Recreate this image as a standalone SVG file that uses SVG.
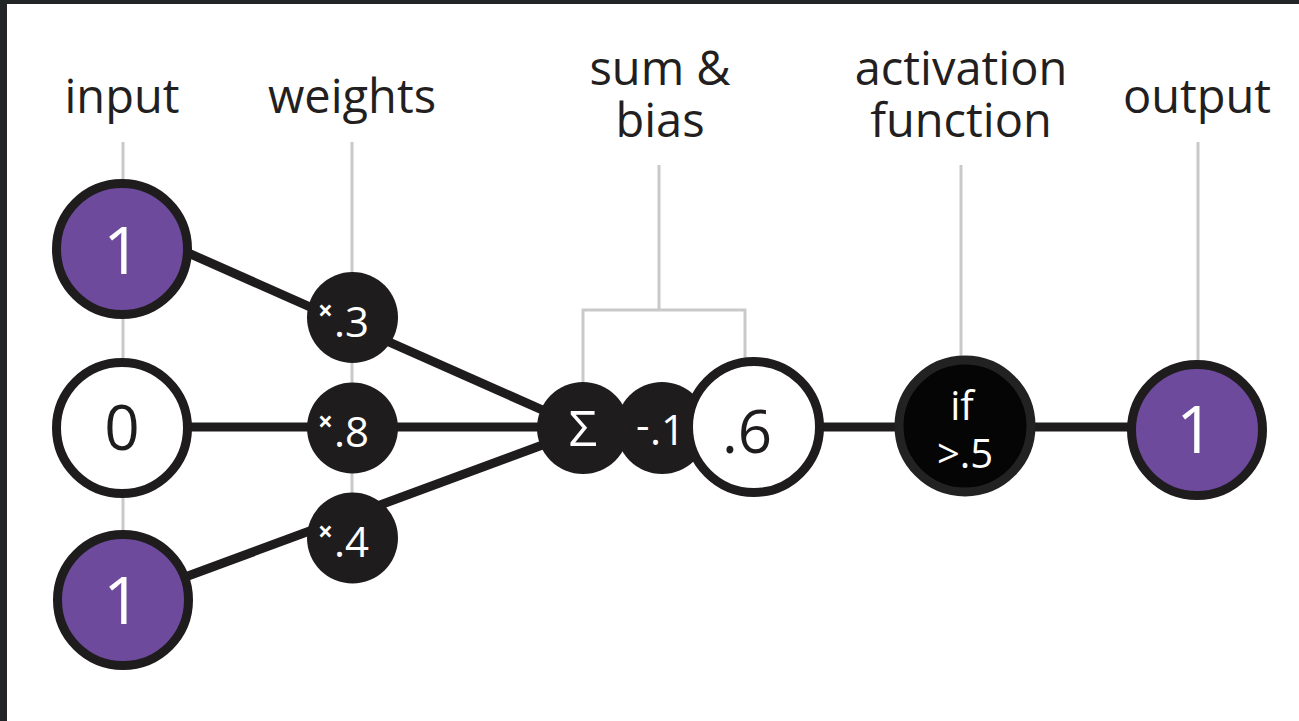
<svg xmlns="http://www.w3.org/2000/svg" width="1299" height="721" viewBox="0 0 1299 721">
  <style>
    .label { font-family: "Open Sans", "Noto Sans", sans-serif; font-size: 47px; font-weight: 500; fill: #231f20; text-anchor: middle; }
    .guide { stroke: #c9c9c9; stroke-width: 3; fill: none; }
    .wire { stroke: #1f1c1d; stroke-width: 9; fill: none; }
    .ring { stroke: #1f1c1d; stroke-width: 9; }
    .purple { fill: #6d4a9b; }
    .white { fill: #ffffff; }
    .dark { fill: #1f1c1d; }
    .num { font-family: "Open Sans", "Noto Sans", sans-serif; font-weight: 500; text-anchor: middle; }
    .wnum { font-family: "Open Sans", "Noto Sans", sans-serif; font-weight: 500; fill: #ffffff; }
    .times { font-size: 26px; font-weight: 700; }
  </style>

  <!-- frame -->
  <rect x="0" y="0" width="1299" height="721" fill="#ffffff"/>
  <rect x="0" y="0" width="1299" height="4" fill="#222526"/>
  <rect x="0" y="0" width="7" height="721" fill="#222526"/>

  <!-- column labels -->
  <g id="labels">
    <text class="label" x="122" y="113">input</text>
    <text class="label" x="352" y="113">weights</text>
    <text class="label" x="660" y="85">sum &amp;<tspan x="660" y="137">bias</tspan></text>
    <text class="label" x="961" y="85">activation<tspan x="961" y="137">function</tspan></text>
    <text class="label" x="1197" y="113">output</text>
  </g>

  <!-- thin guide lines from labels to columns -->
  <g id="guides">
    <line class="guide" x1="123" y1="142" x2="123" y2="600"/>
    <line class="guide" x1="352" y1="142" x2="352" y2="538"/>
    <path class="guide" d="M659 165 V310 M583 383 V310 H745 V360"/>
    <line class="guide" x1="961" y1="165" x2="961" y2="400"/>
    <line class="guide" x1="1198" y1="142" x2="1198" y2="400"/>
  </g>

  <!-- connectors -->
  <g id="connectors">
    <line class="wire" x1="150" y1="236" x2="583" y2="428"/>
    <line class="wire" x1="123" y1="427" x2="1197" y2="427"/>
    <line class="wire" x1="150" y1="590" x2="583" y2="430"/>
  </g>

  <!-- inputs -->
  <g id="input-1">
    <circle class="ring purple" cx="122" cy="249" r="65.5"/>
    <text class="num" x="122" y="274" font-size="66" fill="#ffffff">1</text>
  </g>
  <g id="input-0">
    <circle class="ring white" cx="122" cy="428" r="65.5"/>
    <text class="num" x="122" y="450" font-size="62" fill="#1f1c1d">0</text>
  </g>
  <g id="input-2">
    <circle class="ring purple" cx="123" cy="600" r="65.5"/>
    <text class="num" x="122" y="624" font-size="66" fill="#ffffff">1</text>
  </g>

  <!-- weights: small multiply sign followed by the factor -->
  <g id="weight-1">
    <circle class="dark" cx="352.5" cy="317.5" r="45.5"/>
    <text class="wnum" x="318" y="320"><tspan class="times">×</tspan><tspan x="334" y="337" font-size="42">.3</tspan></text>
  </g>
  <g id="weight-2">
    <circle class="dark" cx="352.5" cy="428" r="45.5"/>
    <text class="wnum" x="318" y="431"><tspan class="times">×</tspan><tspan x="334" y="447" font-size="42">.8</tspan></text>
  </g>
  <g id="weight-3">
    <circle class="dark" cx="352.5" cy="538" r="45.5"/>
    <text class="wnum" x="318" y="541"><tspan class="times">×</tspan><tspan x="334" y="557" font-size="42">.4</tspan></text>
  </g>

  <!-- sum and bias -->
  <g id="bias">
    <circle class="dark" cx="662" cy="428" r="46"/>
    <text class="wnum" x="636" y="440" font-size="42" font-weight="bold">-<tspan x="650" y="445" font-weight="500">.1</tspan></text>
  </g>
  <g id="sum">
    <circle class="dark" cx="583" cy="428" r="46"/>
    <text class="num" x="583" y="446" font-size="50" fill="#ffffff">Σ</text>
  </g>
  <g id="sum-result">
    <circle class="ring white" cx="754" cy="427" r="65.5"/>
    <text class="num" x="747" y="453" font-size="60" fill="#1f1c1d">.6</text>
  </g>

  <!-- activation function -->
  <g id="activation">
    <circle cx="965" cy="426" r="66" fill="#050505" stroke="#222222" stroke-width="9"/>
    <text class="num" x="962" y="420" font-size="40" font-weight="600" fill="#ffffff">if<tspan x="965" y="468">&gt;.5</tspan></text>
  </g>

  <!-- output -->
  <g id="output">
    <circle class="ring purple" cx="1197" cy="430" r="65.5"/>
    <text class="num" x="1195" y="453" font-size="66" fill="#ffffff">1</text>
  </g>
</svg>
